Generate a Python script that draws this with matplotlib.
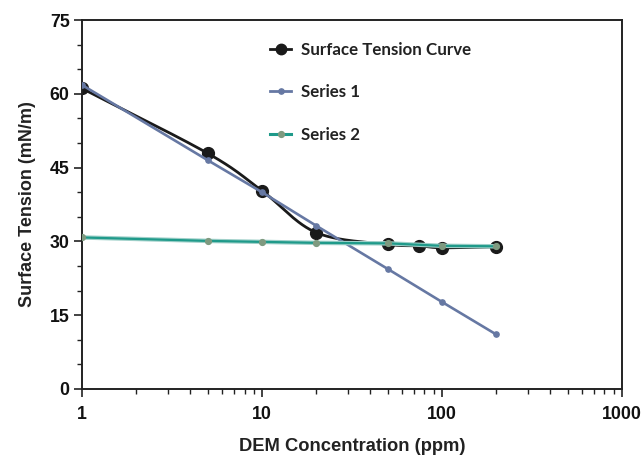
import numpy as np
import matplotlib
matplotlib.use("Agg")
import matplotlib.pyplot as plt
from matplotlib.ticker import FixedLocator, NullFormatter, LogLocator, FixedFormatter

# Measured surface tension vs. DEM concentration
conc_curve = [1, 5, 10, 20, 50, 75, 100, 200]
tension_curve = [61.1, 47.9, 40.3, 31.8, 29.4, 29.1, 28.7, 28.9]

# Series 1: steep linear branch (semi-log)
conc_s1 = [1, 5, 10, 20, 50, 100, 200]
tension_s1 = [61.8, 46.5, 40.0, 33.2, 24.4, 17.7, 11.1]

# Series 2: plateau branch
conc_s2 = [1, 5, 10, 20, 50, 100, 200]
tension_s2 = [30.8, 30.1, 29.9, 29.7, 29.6, 29.1, 29.0]

x_ticks = [1, 10, 100, 1000]
x_tick_labels = ["1", "10", "100", "1000"]
y_ticks = [0, 15, 30, 45, 60, 75]


def catmull_rom(xs, ys, n=30):
    """Smooth curve through points in (log10 x, y) space."""
    lx = np.log10(np.asarray(xs, float))
    y = np.asarray(ys, float)
    px = np.concatenate([[2 * lx[0] - lx[1]], lx, [2 * lx[-1] - lx[-2]]])
    py = np.concatenate([[2 * y[0] - y[1]], y, [2 * y[-1] - y[-2]]])
    out_x, out_y = [], []
    for i in range(1, len(px) - 2):
        t = np.linspace(0, 1, n, endpoint=False)
        for arr, dst in ((px, out_x), (py, out_y)):
            p0, p1, p2, p3 = arr[i - 1], arr[i], arr[i + 1], arr[i + 2]
            dst.extend(0.5 * ((2 * p1) + (-p0 + p2) * t
                              + (2 * p0 - 5 * p1 + 4 * p2 - p3) * t ** 2
                              + (-p0 + 3 * p1 - 3 * p2 + p3) * t ** 3))
    out_x.append(lx[-1])
    out_y.append(y[-1])
    return 10 ** np.array(out_x), np.array(out_y)


fig = plt.figure(figsize=(6.41, 4.57), dpi=100)
ax = fig.add_axes([0.128, 0.149, 0.842, 0.807])

black = "#1a1a1a"
blue = "#6678a3"
teal = "#1f9a8a"
teal_light = "#9fd0c9"
green_marker = "#7f9a80"

# smooth measured curve
sx, sy = catmull_rom(conc_curve, tension_curve)
ax.plot(sx, sy, color=black, lw=2.0, zorder=2, solid_capstyle="round")
ax.plot(conc_curve, tension_curve, ls="none", marker="o", ms=8.5,
        color=black, zorder=2)

# series 1
ax.plot(conc_s1, tension_s1, color=blue, lw=1.9, marker="o", ms=3.8,
        zorder=3)

# series 2
ax.plot(conc_s2, tension_s2, color=teal_light, lw=3.2, zorder=4,
        solid_capstyle="round")
ax.plot(conc_s2, tension_s2, color=teal, lw=1.6, marker="o", ms=4.2,
        markerfacecolor=green_marker, markeredgecolor=green_marker, zorder=4)

# legend proxies
h0, = ax.plot([], [], color=black, lw=2.0, marker="o", ms=7.5)
h1, = ax.plot([], [], color=blue, lw=2.0, marker="o", ms=3.8)
h2, = ax.plot([], [], color=teal, lw=2.2, marker="o", ms=4.2,
              markerfacecolor=green_marker, markeredgecolor=green_marker)
leg = ax.legend([h0, h1, h2], ["Surface Tension Curve", "Series 1", "Series 2"],
                loc="upper left", bbox_to_anchor=(0.32, 0.982), frameon=False,
                handlelength=1.25, handletextpad=0.6, labelspacing=1.55,
                prop={"family": "Lato", "weight": "bold", "size": 12.2})
for t in leg.get_texts():
    t.set_color("#222222")

ax.set_xscale("log")
ax.set_xlim(1, 1000)
ax.set_ylim(0, 75)

ax.xaxis.set_major_locator(FixedLocator(x_ticks))
ax.xaxis.set_major_formatter(FixedFormatter(x_tick_labels))
ax.xaxis.set_minor_locator(LogLocator(base=10, subs=np.arange(2, 10)))
ax.xaxis.set_minor_formatter(NullFormatter())
ax.yaxis.set_major_locator(FixedLocator(y_ticks))
ax.yaxis.set_minor_locator(FixedLocator(np.arange(5, 75, 5)))

for lab in ax.get_xticklabels() + ax.get_yticklabels():
    lab.set_fontfamily("Liberation Sans")
    lab.set_fontweight("bold")
    lab.set_fontsize(12.8)
    lab.set_color("#111111")

ax.tick_params(which="major", direction="out", length=6, width=1.2, color="#222222", pad=3)
ax.tick_params(which="minor", direction="out", length=3.5, width=1.0, color="#222222")
ax.tick_params(axis="x", which="major", pad=6)

for sp in ax.spines.values():
    sp.set_linewidth(1.4)
    sp.set_color("#222222")

ax.set_xlabel("DEM Concentration (ppm)", fontfamily="Liberation Sans",
              fontweight="bold", fontsize=13.2, color="#222222", labelpad=11)
ax.set_ylabel("Surface Tension (mN/m)", fontfamily="Liberation Sans",
              fontweight="bold", fontsize=13.0, color="#222222", labelpad=10)

fig.savefig("out.png", dpi=100)
